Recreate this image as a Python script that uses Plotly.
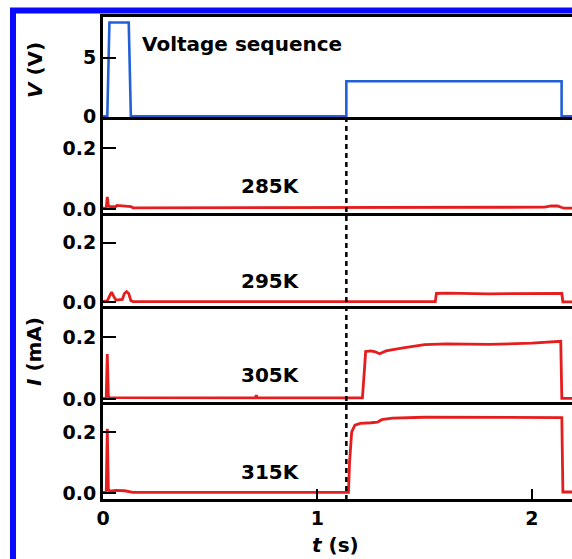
import plotly.graph_objects as go
from plotly.subplots import make_subplots

# ---- data ----
t_v = [0, 0.02, 0.03, 0.12, 0.13, 1.135, 1.135, 2.139, 2.139, 2.19]
v_seq = [0, 0, 8, 8, 0, 0, 3, 3, 0, 0]

t_285 = [0, 0.015, 0.02, 0.025, 0.03, 0.06, 0.065, 0.09, 0.095, 0.13, 0.14, 0.5, 1.0, 1.5,
         2.0, 2.06, 2.09, 2.12, 2.14, 2.15, 2.19]
i_285 = [0.003, 0.003, 0.04, 0.01, 0.008, 0.008, 0.012, 0.01, 0.012, 0.008, 0.004, 0.004,
         0.004, 0.005, 0.005, 0.006, 0.01, 0.01, 0.005, 0.003, 0.003]

t_295 = [0, 0.02, 0.03, 0.04, 0.05, 0.06, 0.09, 0.1, 0.11, 0.12, 0.13, 0.14, 0.6, 1.0, 1.55,
         1.555, 1.6, 1.8, 2.0, 2.14, 2.145, 2.19]
i_295 = [0.003, 0.005, 0.02, 0.035, 0.02, 0.008, 0.01, 0.03, 0.036, 0.03, 0.006, 0.003, 0.003,
         0.003, 0.003, 0.03, 0.031, 0.029, 0.03, 0.03, 0.002, 0.002]

t_305 = [0, 0.015, 0.02, 0.025, 0.03, 0.6, 0.71, 0.715, 0.72, 1.0, 1.21, 1.22, 1.225, 1.25,
         1.27, 1.29, 1.32, 1.4, 1.5, 1.6, 1.8, 2.0, 2.1, 2.135, 2.14, 2.19]
i_305 = [0.002, 0.002, 0.145, 0.01, 0.004, 0.003, 0.003, 0.012, 0.003, 0.003, 0.003, 0.10,
         0.153, 0.155, 0.152, 0.146, 0.155, 0.165, 0.175, 0.178, 0.176, 0.18, 0.185, 0.186,
         0.002, 0.002]

t_315 = [0, 0.015, 0.02, 0.025, 0.03, 0.06, 0.1, 0.13, 0.14, 0.5, 1.0, 1.145, 1.15, 1.16,
         1.175, 1.2, 1.25, 1.28, 1.3, 1.35, 1.5, 1.7, 1.9, 2.1, 2.14, 2.145, 2.19]
i_315 = [0.002, 0.002, 0.21, 0.012, 0.006, 0.008, 0.007, 0.005, 0.002, 0.002, 0.002, 0.002,
         0.1, 0.2, 0.222, 0.228, 0.23, 0.232, 0.24, 0.245, 0.248, 0.247, 0.248, 0.247, 0.247,
         0.003, 0.003]

temps = ["285K", "295K", "305K", "315K"]
t_dash = 1.135
x_ticks = [0, 1, 2]

# ---- figure ----
W, H = 572, 559
L, T, B = 103, 17, 60
PW, PH = W - L, H - T - B
row_px = [100, 96, 93, 96, 97]

fig = make_subplots(rows=5, cols=1, shared_xaxes=True, vertical_spacing=0,
                    row_heights=row_px)

BLUE = "#2360d8"
RED = "#e41e1e"
fig.add_trace(go.Scatter(x=t_v, y=v_seq, mode="lines", line=dict(color=BLUE, width=2.6)),
              row=1, col=1)
series = [(t_285, i_285), (t_295, i_295), (t_305, i_305), (t_315, i_315)]
for k, (tt, ii) in enumerate(series):
    fig.add_trace(go.Scatter(x=tt, y=ii, mode="lines", line=dict(color=RED, width=2.8)),
                  row=k + 2, col=1)

FONT = "DejaVu Sans"
tickfont = dict(family=FONT, size=19, color="black", weight="bold")

i_ranges = [[-0.013, 0.302], [-0.012, 0.30], [-0.01, 0.30], [-0.02, 0.298]]
for r in range(1, 6):
    xa = dict(range=[0, PW / 214.4], showline=True, linecolor="black", linewidth=2.5,
              showgrid=False, zeroline=False, mirror=(r == 1))
    if r == 5:
        xa.update(ticks="inside", ticklen=10, tickwidth=2, tickcolor="black",
                  tickvals=x_ticks, tickfont=tickfont, showticklabels=True)
    else:
        xa.update(ticks="", showticklabels=False)
    fig.update_xaxes(row=r, col=1, **xa)
    ya = dict(showline=True, linecolor="black", linewidth=3, showgrid=False, zeroline=False,
              ticks="inside", ticklen=13, tickwidth=2, tickcolor="black", tickfont=tickfont)
    if r == 1:
        ya.update(range=[-0.05, 8.47], tickvals=[0, 5], ticktext=["0", "5"])
    else:
        ya.update(range=i_ranges[r - 2], tickvals=[0, 0.2], ticktext=["0.0", "0.2"])
    fig.update_yaxes(row=r, col=1, **ya)


def px_x(px):
    return (px - L) / PW


def px_y(py):
    return (H - B - py) / PH


annots = []
afont = dict(family=FONT, size=20, color="black", weight="bold")
annots.append(dict(text="Voltage sequence", x=px_x(140), y=px_y(44), xanchor="left",
                   yanchor="middle", showarrow=False, font=afont, xref="paper", yref="paper"))
label_y = [186, 281, 375, 472]
for name, py in zip(temps, label_y):
    annots.append(dict(text=name, x=px_x(270), y=px_y(py), xanchor="center", yanchor="middle",
                       showarrow=False, font=afont, xref="paper", yref="paper"))
annots.append(dict(text="<i>V</i> (V)", x=px_x(35), y=px_y(70), textangle=-90,
                   xanchor="center", yanchor="middle", showarrow=False, font=afont,
                   xref="paper", yref="paper"))
annots.append(dict(text="<i>I</i> (mA)", x=px_x(34), y=px_y(352), textangle=-90,
                   xanchor="center", yanchor="middle", showarrow=False, font=afont,
                   xref="paper", yref="paper"))
annots.append(dict(text="<i>t</i> (s)", x=px_x(335), y=px_y(545), xanchor="center",
                   yanchor="middle", showarrow=False, font=afont, xref="paper", yref="paper"))

shapes = [
    dict(type="line", xref="x", yref="paper", x0=t_dash, x1=t_dash, y0=px_y(117), y1=0,
         line=dict(color="black", width=2.5, dash="5px,4px")),
    dict(type="rect", xref="paper", yref="paper", x0=px_x(13), x1=px_x(620),
         y0=px_y(10.5), y1=px_y(620), line=dict(color="#0a0aff", width=6)),
]

fig.update_layout(width=W, height=H, margin=dict(l=L, r=0, t=T, b=B),
                  plot_bgcolor="white", paper_bgcolor="white", showlegend=False,
                  font=dict(family=FONT, size=19, color="black"),
                  annotations=annots, shapes=shapes)

fig.write_html("out.html")
